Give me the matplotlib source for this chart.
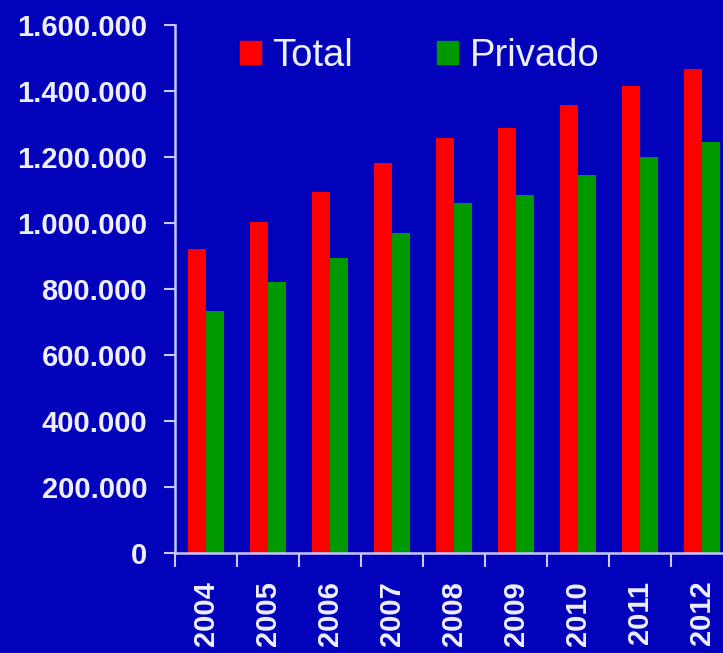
import numpy as np
import matplotlib.pyplot as plt
from matplotlib.patches import Patch

plt.rcParams['font.family'] = ['Liberation Sans', 'DejaVu Sans']

years = ['2004', '2005', '2006', '2007', '2008', '2009', '2010', '2011', '2012']
total = [920000, 1002000, 1095000, 1183000, 1259000, 1289000, 1359000, 1416000, 1468000]
privado = [732000, 820000, 893000, 971000, 1062000, 1086000, 1144000, 1201000, 1247000]
yticks = [0, 200000, 400000, 600000, 800000, 1000000, 1200000, 1400000, 1600000]

bg = '#0202ba'
fg = '#eeeeff'

fig = plt.figure(figsize=(7.23, 6.53), dpi=100, facecolor=bg)
ax = fig.add_axes([0.242, 0.1531, 0.7718, 0.8086])
ax.set_facecolor(bg)

x = np.arange(len(years))
w = 0.29
ax.bar(x - w / 2, total, w, color='#ff0000', label='Total')
ax.bar(x + w / 2, privado, w, color='#009a00', label='Privado')

ax.set_xlim(-0.5, len(years) - 0.5)
ax.set_ylim(0, 1600000)

def fmt(v):
    return '{:,}'.format(v).replace(',', '.')

ax.set_yticks(yticks)
ax.set_yticklabels([fmt(v) for v in yticks], fontsize=21, fontweight='bold', color=fg)
ax.tick_params(axis='y', length=8, width=1.5, color='#c8c8ff', pad=12)

ax.set_xticks(x)
ax.set_xticklabels(years, rotation=90, fontsize=21, fontweight='bold', color=fg)
ax.set_xticks(np.arange(len(years)) - 0.5, minor=True)
ax.tick_params(axis='x', which='major', length=0, pad=20)
ax.tick_params(axis='x', which='minor', length=10, width=1.5, color='#c8c8ff')

for s in ['top', 'right']:
    ax.spines[s].set_visible(False)
for s in ['left', 'bottom']:
    ax.spines[s].set_color('#c8c8ff')
    ax.spines[s].set_linewidth(1.8)

handles = [Patch(color='#ff0000', label='Total'), Patch(color='#009a00', label='Privado')]
fig.legend(handles=handles, loc='upper left', bbox_to_anchor=(240 / 723, 1 - 38 / 653),
           ncol=2, frameon=False, fontsize=27.5, labelcolor=fg, handlelength=0.55,
           handleheight=0.55, handletextpad=0.3, columnspacing=2.2, borderpad=0,
           borderaxespad=0)

fig.savefig('out.png', dpi=100, facecolor=bg)
